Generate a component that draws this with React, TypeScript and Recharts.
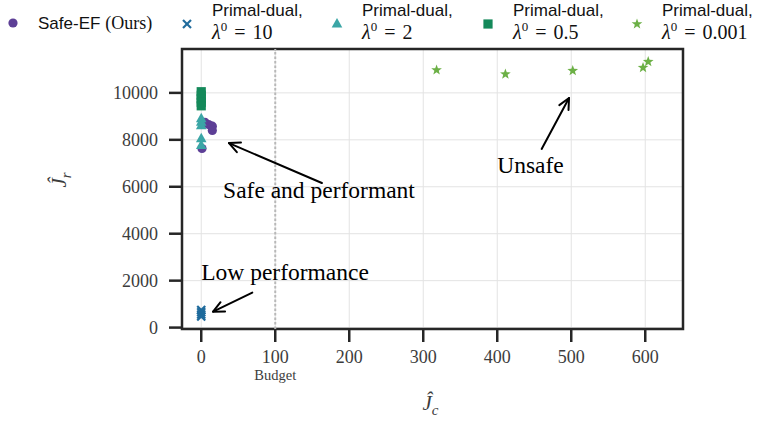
import React from 'react'
import { ScatterChart, Scatter, XAxis, YAxis, CartesianGrid, ReferenceLine, ReferenceArea, ReferenceDot } from 'recharts'

// values (x = J_c, y = J_r)
const safeEF = [{ x: 5, y: 8750 }, { x: 10, y: 8650 }, { x: 15, y: 8580 }, { x: 15, y: 8400 }, { x: 1, y: 7630 }]
const pd10 = [{ x: 0, y: 750 }, { x: 0, y: 650 }, { x: 0, y: 560 }, { x: 0, y: 470 }]
const pd2 = [{ x: 0, y: 8900 }, { x: 0, y: 8750 }, { x: 0, y: 8600 }, { x: 0, y: 8050 }, { x: 0, y: 7760 }]
const pd05 = [{ x: 0, y: 10050 }, { x: 0, y: 9900 }, { x: 0, y: 9750 }, { x: 0, y: 9600 }, { x: 0, y: 9450 }]
const pd0001 = [{ x: 318, y: 10975 }, { x: 411, y: 10800 }, { x: 502, y: 10945 }, { x: 597, y: 11075 }, { x: 604, y: 11330 }]

const xTicks = [0, 100, 200, 300, 400, 500, 600]
const yTicks = [0, 2000, 4000, 6000, 8000, 10000]
const budget = 100
const xDomain: [number, number] = [-26, 651]
const yDomain: [number, number] = [-60, 11870]

const notes = [
  { text: 'Safe and performant', at: { x: 29.5, y: 5520 }, from: { x: 163, y: 6160 }, to: { x: 37.5, y: 7860 } },
  { text: 'Low performance', at: { x: 0, y: 2030 }, from: { x: 69, y: 1490 }, to: { x: 16, y: 680 } },
  { text: 'Unsafe', at: { x: 400, y: 6590 }, from: { x: 460, y: 7610 }, to: { x: 497, y: 9780 } },
]

const C = { purple: '#5d3f96', blue: '#1f6b9c', teal: '#3ba6a6', green: '#14895a', lime: '#6cb046', ink: '#262626' }
const serif = '"Liberation Serif", "Times New Roman", serif'
const sans = '"Liberation Sans", Arial, sans-serif'

const Dot = ({ cx, cy, fill }: any) => <circle cx={cx} cy={cy} r={4.6} fill={fill} />
const Cross = ({ cx, cy, fill }: any) => (
  <g stroke={fill} strokeWidth={2.2}>
    <line x1={cx - 4} y1={cy - 4} x2={cx + 4} y2={cy + 4} />
    <line x1={cx - 4} y1={cy + 4} x2={cx + 4} y2={cy - 4} />
  </g>
)
const Tri = ({ cx, cy, fill }: any) => <polygon points={`${cx},${cy - 6} ${cx - 5.3},${cy + 3.6} ${cx + 5.3},${cy + 3.6}`} fill={fill} />
const Sq = ({ cx, cy, fill }: any) => <rect x={cx - 4.6} y={cy - 4.6} width={9.2} height={9.2} fill={fill} />
const Star = ({ cx, cy, fill }: any) => {
  const pts = []
  for (let i = 0; i < 10; i++) {
    const r = i % 2 ? 2.3 : 5.6
    const a = -Math.PI / 2 + (i * Math.PI) / 5
    pts.push(`${cx + r * Math.cos(a)},${cy + r * Math.sin(a)}`)
  }
  return <polygon points={pts.join(' ')} fill={fill} />
}

const Arrow = (p: any) => {
  const { x1, y1, x2, y2 } = p
  const ang = Math.atan2(y2 - y1, x2 - x1)
  const L = 12, w = 0.45
  const h1 = { x: x2 - L * Math.cos(ang - w), y: y2 - L * Math.sin(ang - w) }
  const h2 = { x: x2 - L * Math.cos(ang + w), y: y2 - L * Math.sin(ang + w) }
  return (
    <g stroke="#000" strokeWidth={2} fill="none" strokeLinecap="round" strokeLinejoin="round">
      <line x1={x1} y1={y1} x2={x2} y2={y2} />
      <polyline points={`${h1.x},${h1.y} ${x2},${y2} ${h2.x},${h2.y}`} />
    </g>
  )
}

const XTick = ({ x, y, payload }: any) => (
  <g fontFamily={serif}>
    <text x={x} y={y} dy="0.71em" textAnchor="middle" fontSize={18} fill="#3c3c3c">{payload.value}</text>
    {payload.value === budget && <text x={x} y={y + 30} textAnchor="middle" fontSize={14.5} fill="#3c3c3c">Budget</text>}
  </g>
)
const YTick = ({ x, y, payload }: any) => (
  <text x={x} y={y} dy="0.36em" textAnchor="end" fontFamily={serif} fontSize={18} fill="#3c3c3c">{payload.value}</text>
)

const XTitle = ({ viewBox }: any) => (
  <text x={viewBox.x + viewBox.width / 2 - 2} y={viewBox.y + 81} textAnchor="middle" fontFamily={serif} fill="#3c3c3c">
    <tspan fontStyle="italic" fontSize={21}>Ĵ</tspan>
    <tspan fontStyle="italic" fontSize={15} dy={5}>c</tspan>
  </text>
)
const YTitle = ({ viewBox }: any) => {
  const cx = 66, cy = viewBox.y + 131
  return (
    <text x={cx} y={cy} textAnchor="middle" transform={`rotate(-90, ${cx}, ${cy})`} fontFamily={serif} fill="#3c3c3c">
      <tspan fontStyle="italic" fontSize={21}>Ĵ</tspan>
      <tspan fontStyle="italic" fontSize={15} dy={5}>r</tspan>
    </text>
  )
}

const Lambda = ({ x, y, v }: { x: number; y: number; v: string }) => (
  <text x={x} y={y} fontFamily={serif} fontSize={20} fill="#111">
    <tspan fontStyle="italic">λ</tspan>
    <tspan fontSize={13} dy={-8}>0</tspan>
    <tspan dy={8} dx={7}>=</tspan>
    <tspan dx={7}>{v}</tspan>
  </text>
)

const legend = [
  { shape: Cross, fill: C.blue, mx: 187, tx: 212, v: '10' },
  { shape: Tri, fill: C.teal, mx: 337, tx: 362, v: '2' },
  { shape: Sq, fill: C.green, mx: 488, tx: 513, v: '0.5' },
  { shape: Star, fill: C.lime, mx: 637, tx: 662, v: '0.001' },
]

export default function App() {
  return (
    <div style={{ position: 'absolute', left: 0, top: 0, width: 763, height: 421, background: '#fff' }}>
      <ScatterChart width={763} height={421} margin={{ top: 49, right: 80, bottom: 0, left: 0 }}>
        <CartesianGrid stroke="#e3e3e3" strokeWidth={1} />
        <XAxis type="number" dataKey="x" domain={xDomain} ticks={xTicks} allowDataOverflow height={92}
          axisLine={false} tickSize={13} tickMargin={8} tickLine={{ stroke: C.ink, strokeWidth: 2.5 }}
          tick={<XTick />} label={{ content: <XTitle /> }} />
        <YAxis type="number" dataKey="y" domain={yDomain} ticks={yTicks} allowDataOverflow width={182}
          axisLine={false} tickSize={13} tickMargin={11} tickLine={{ stroke: C.ink, strokeWidth: 2.5 }}
          tick={<YTick />} label={{ content: <YTitle /> }} />
        <ReferenceLine x={budget} stroke="#b8b8b8" strokeWidth={2} strokeDasharray="2.5 2" />
        <Scatter name="Safe-EF (Ours)" data={safeEF} fill={C.purple} shape={<Dot />} isAnimationActive={false} />
        <Scatter name="λ0 = 10" data={pd10} fill={C.blue} shape={<Cross />} isAnimationActive={false} />
        <Scatter name="λ0 = 2" data={pd2} fill={C.teal} shape={<Tri />} isAnimationActive={false} />
        <Scatter name="λ0 = 0.5" data={pd05} fill={C.green} shape={<Sq />} isAnimationActive={false} />
        <Scatter name="λ0 = 0.001" data={pd0001} fill={C.lime} shape={<Star />} isAnimationActive={false} />
        {notes.map((n) => (
          <ReferenceLine key={n.text + 'a'} segment={[n.from, n.to]} shape={Arrow} />
        ))}
        {notes.map((n) => (
          <ReferenceDot key={n.text} x={n.at.x} y={n.at.y} r={0}
            shape={(p: any) => <text x={p.cx} y={p.cy} fontFamily={serif} fontSize={23.5} fill="#000">{n.text}</text>} />
        ))}
        <ReferenceArea x1={xDomain[0]} x2={xDomain[1]} y1={yDomain[0]} y2={yDomain[1]} fill="none" fillOpacity={0}
          stroke={C.ink} strokeWidth={2.5} />
      </ScatterChart>
      <svg width={763} height={46} style={{ position: 'absolute', left: 0, top: 0 }}>
        <Dot cx={13} cy={23} fill={C.purple} />
        <text x={38} y={29} fontFamily={sans} fontSize={17} fill="#111">
          Safe-EF<tspan fontFamily={serif} fontSize={18} dx={5}>(Ours)</tspan>
        </text>
        {legend.map((l) => {
          const S = l.shape
          return (
            <g key={l.v}>
              <S cx={l.mx} cy={24} fill={l.fill} />
              <text x={l.tx} y={16} fontFamily={sans} fontSize={17} fill="#111">Primal-dual,</text>
              <Lambda x={l.tx} y={39} v={l.v} />
            </g>
          )
        })}
      </svg>
    </div>
  )
}
